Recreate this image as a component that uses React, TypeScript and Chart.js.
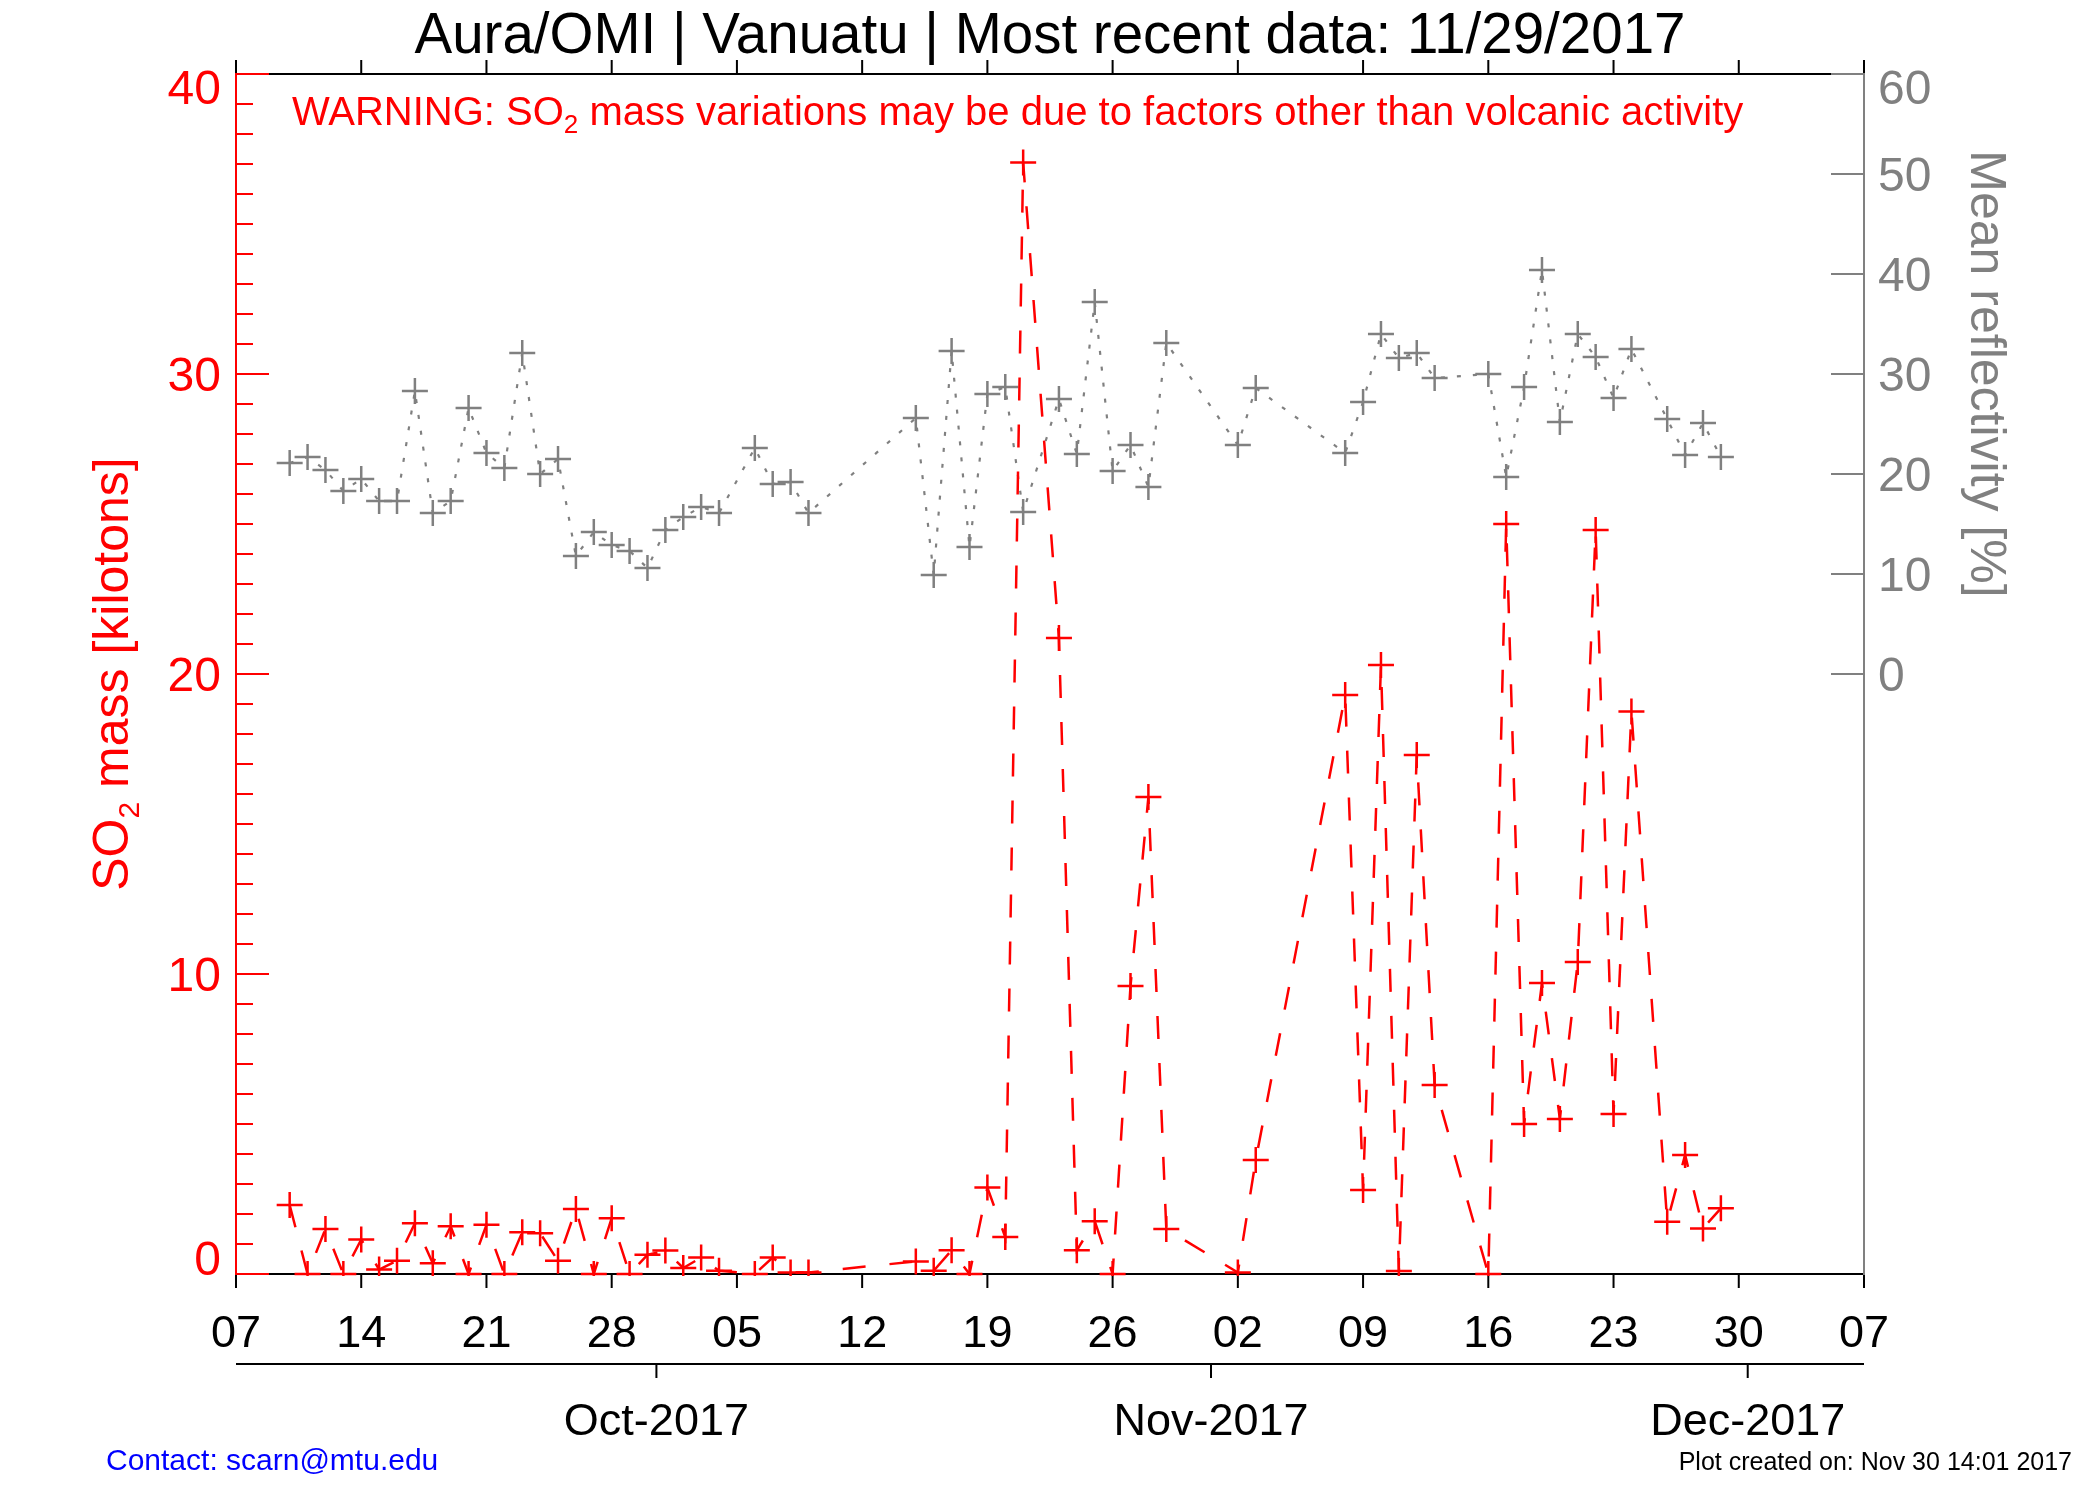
import React, { useEffect, useRef } from "react";
import { Chart, registerables } from "chart.js";

Chart.register(...registerables);

// ---------- data ----------
const startDate = "2017-09-07";
const endDate = "2017-12-07";

const obsDates = [
  "2017-09-10", "2017-09-11", "2017-09-12", "2017-09-13", "2017-09-14", "2017-09-15", "2017-09-16",
  "2017-09-17", "2017-09-18", "2017-09-19", "2017-09-20", "2017-09-21", "2017-09-22", "2017-09-23",
  "2017-09-24", "2017-09-25", "2017-09-26", "2017-09-27", "2017-09-28", "2017-09-29", "2017-09-30",
  "2017-10-01", "2017-10-02", "2017-10-03", "2017-10-04",
  "2017-10-06", "2017-10-07", "2017-10-08", "2017-10-09",
  "2017-10-15", "2017-10-16", "2017-10-17", "2017-10-18", "2017-10-19", "2017-10-20", "2017-10-21",
  "2017-10-23", "2017-10-24", "2017-10-25", "2017-10-26", "2017-10-27", "2017-10-28", "2017-10-29",
  "2017-11-02", "2017-11-03",
  "2017-11-08", "2017-11-09", "2017-11-10", "2017-11-11", "2017-11-12", "2017-11-13",
  "2017-11-16", "2017-11-17", "2017-11-18", "2017-11-19", "2017-11-20", "2017-11-21", "2017-11-22",
  "2017-11-23", "2017-11-24",
  "2017-11-26", "2017-11-27", "2017-11-28", "2017-11-29",
];

const so2Mass = [
  2.3, 0, 1.5, 0, 1.15, 0.15, 0.44,
  1.69, 0.36, 1.59, 0, 1.64, 0, 1.39,
  1.36, 0.44, 2.17, 0, 1.86, 0, 0.64,
  0.78, 0.2, 0.55, 0.11,
  0, 0.55, 0.05, 0.05,
  0.42, 0.11, 0.79, 0, 2.88, 1.23, 37.05,
  21.2, 0.79, 1.76, 0, 9.6, 15.9, 1.5,
  0.05, 3.8,
  19.3, 2.8, 20.3, 0.1, 17.3, 6.3,
  0, 25.0, 5.0, 9.7, 5.17, 10.4, 24.8,
  5.33, 18.75,
  1.74, 3.97, 1.52, 2.19,
];

const reflectivity = [
  21.1, 21.7, 20.4, 18.3, 19.5, 17.3, 17.3,
  28.3, 16.1, 17.3, 26.6, 22.1, 20.6, 32.1,
  20.0, 21.5, 11.8, 14.2, 12.9, 12.3, 10.6,
  14.4, 15.7, 16.7, 16.1,
  22.6, 19.0, 19.2, 16.1,
  25.6, 9.9, 32.3, 12.7, 28.0, 28.7, 16.2,
  27.5, 22.0, 37.2, 20.3, 22.9, 18.7, 33.1,
  22.9, 28.6,
  22.1, 27.2, 34.0, 31.6, 32.1, 29.6,
  30.0, 19.7, 28.7, 40.4, 25.2, 34.0, 31.7,
  27.6, 32.5,
  25.5, 21.9, 25.1, 21.7,
];

const weekTickDates = [
  "2017-09-07", "2017-09-14", "2017-09-21", "2017-09-28", "2017-10-05", "2017-10-12", "2017-10-19",
  "2017-10-26", "2017-11-02", "2017-11-09", "2017-11-16", "2017-11-23", "2017-11-30", "2017-12-07",
];
const weekTickLabels = ["07", "14", "21", "28", "05", "12", "19", "26", "02", "09", "16", "23", "30", "07"];

const monthTickDates = ["2017-10-01", "2017-11-01", "2017-12-01"];
const monthTickLabels = ["Oct-2017", "Nov-2017", "Dec-2017"];

const leftTicks = [0, 10, 20, 30, 40];
const rightTicks = [0, 10, 20, 30, 40, 50, 60];

const titleText = "Aura/OMI | Vanuatu | Most recent data: 11/29/2017";
const contactText = "Contact: scarn@mtu.edu";
const createdText = "Plot created on: Nov 30 14:01 2017";

// ---------- helpers ----------
const DAY_MS = 86400000;
const toUTC = (s: string) => {
  const [y, m, d] = s.split("-").map(Number);
  return Date.UTC(y, m - 1, d);
};
const dayOf = (s: string) => (toUTC(s) - toUTC(startDate)) / DAY_MS;

const RED = "#ff0000";
const GRAY = "#808080";
const BLACK = "#000000";
const FONT = "'Liberation Sans', Arial, Helvetica, sans-serif";

type Part = { text: string; size: number; dy?: number };

function drawRich(ctx: CanvasRenderingContext2D, parts: Part[], x: number, y: number, align: "left" | "center") {
  ctx.textBaseline = "alphabetic";
  ctx.textAlign = "left";
  let total = 0;
  const widths = parts.map((p) => {
    ctx.font = `${p.size}px ${FONT}`;
    const w = ctx.measureText(p.text).width;
    total += w;
    return w;
  });
  let cx = align === "center" ? x - total / 2 : x;
  parts.forEach((p, i) => {
    ctx.font = `${p.size}px ${FONT}`;
    ctx.fillText(p.text, cx, y + (p.dy || 0));
    cx += widths[i];
  });
}

const idlAxes = {
  id: "idlAxes",
  beforeDatasetsDraw(chart: any) {
    const ctx: CanvasRenderingContext2D = chart.ctx;
    const { left, right, top, bottom } = chart.chartArea;
    const xs = chart.scales.x;
    const yl = chart.scales.y;
    const yr = chart.scales.y2;
    ctx.save();
    ctx.setLineDash([]);
    ctx.lineCap = "butt";
    ctx.lineWidth = 2;

    // top & bottom frame
    ctx.strokeStyle = BLACK;
    ctx.beginPath();
    ctx.moveTo(left, top);
    ctx.lineTo(right, top);
    ctx.moveTo(left, bottom);
    ctx.lineTo(right, bottom);
    ctx.stroke();

    // weekly ticks (outward on bottom and top)
    ctx.beginPath();
    weekTickDates.forEach((d) => {
      const px = xs.getPixelForValue(dayOf(d));
      ctx.moveTo(px, bottom);
      ctx.lineTo(px, bottom + 14);
      ctx.moveTo(px, top);
      ctx.lineTo(px, top - 14);
    });
    ctx.stroke();

    // left axis (red)
    ctx.strokeStyle = RED;
    ctx.beginPath();
    ctx.moveTo(left, top - 1);
    ctx.lineTo(left, bottom + 1);
    for (let v = 0; v <= 40; v++) {
      const py = yl.getPixelForValue(v);
      const len = v % 10 === 0 ? 33 : 17;
      ctx.moveTo(left, py);
      ctx.lineTo(left + len, py);
    }
    ctx.stroke();

    // right axis (gray)
    ctx.strokeStyle = GRAY;
    ctx.beginPath();
    ctx.moveTo(right, top - 1);
    ctx.lineTo(right, bottom + 1);
    rightTicks.forEach((v) => {
      const py = yr.getPixelForValue(v);
      ctx.moveTo(right, py);
      ctx.lineTo(right - 33, py);
    });
    ctx.stroke();

    // second date axis (months)
    const my = bottom + 90;
    ctx.strokeStyle = BLACK;
    ctx.beginPath();
    ctx.moveTo(left, my);
    ctx.lineTo(right, my);
    monthTickDates.forEach((d) => {
      const px = xs.getPixelForValue(dayOf(d) - 0.5);
      ctx.moveTo(px, my);
      ctx.lineTo(px, my + 14);
    });
    ctx.stroke();

    // ---------- text ----------
    // left tick labels
    ctx.fillStyle = RED;
    ctx.font = `48px ${FONT}`;
    ctx.textAlign = "right";
    ctx.textBaseline = "alphabetic";
    leftTicks.forEach((v) => {
      const py = yl.getPixelForValue(v);
      const cy = Math.min(Math.max(py, top + 13), bottom - 16);
      ctx.fillText(String(v), left - 15, cy + 17);
    });

    // right tick labels
    ctx.fillStyle = GRAY;
    ctx.textAlign = "left";
    rightTicks.forEach((v) => {
      const py = yr.getPixelForValue(v);
      const cy = Math.max(py, top + 13);
      ctx.fillText(String(v), right + 14, cy + 17);
    });

    // bottom day labels
    ctx.fillStyle = BLACK;
    ctx.font = `45px ${FONT}`;
    ctx.textAlign = "center";
    weekTickDates.forEach((d, i) => {
      const px = xs.getPixelForValue(dayOf(d));
      ctx.fillText(weekTickLabels[i], px, bottom + 73);
    });

    // month labels
    monthTickDates.forEach((d, i) => {
      const px = xs.getPixelForValue(dayOf(d) - 0.5);
      ctx.fillText(monthTickLabels[i], px, bottom + 161);
    });

    // title
    ctx.font = `56.5px ${FONT}`;
    ctx.fillStyle = BLACK;
    ctx.textAlign = "center";
    ctx.fillText(titleText, (left + right) / 2, top - 21);

    // warning
    ctx.fillStyle = RED;
    drawRich(
      ctx,
      [
        { text: "WARNING: SO", size: 40 },
        { text: "2", size: 26, dy: 8 },
        { text: " mass variations may be due to factors other than volcanic activity", size: 40 },
      ],
      left + 56,
      top + 51,
      "left"
    );

    // left axis title (rotated CCW)
    ctx.save();
    ctx.fillStyle = RED;
    ctx.translate(left - 108, (top + bottom) / 2);
    ctx.rotate(-Math.PI / 2);
    drawRich(
      ctx,
      [
        { text: "SO", size: 50 },
        { text: "2", size: 30, dy: 11 },
        { text: " mass [kilotons]", size: 50 },
      ],
      0,
      0,
      "center"
    );
    ctx.restore();

    // right axis title (rotated CW)
    ctx.save();
    ctx.fillStyle = GRAY;
    ctx.translate(right + 107, yr.getPixelForValue(30));
    ctx.rotate(Math.PI / 2);
    drawRich(ctx, [{ text: "Mean reflectivity [%]", size: 50 }], 0, 0, "center");
    ctx.restore();

    // footer texts
    ctx.font = `30px ${FONT}`;
    ctx.fillStyle = "#0000ff";
    ctx.textAlign = "left";
    ctx.fillText(contactText, 106, 1470);
    ctx.font = `25px ${FONT}`;
    ctx.fillStyle = BLACK;
    ctx.textAlign = "right";
    ctx.fillText(createdText, 2072, 1470);

    ctx.restore();
  },
};

export default function App() {
  const ref = useRef<HTMLCanvasElement | null>(null);

  useEffect(() => {
    if (!ref.current) return;
    const xDays = obsDates.map(dayOf);
    const chart = new Chart(ref.current, {
      type: "line",
      data: {
        datasets: [
          {
            label: "SO2 mass",
            data: xDays.map((x, i) => ({ x, y: so2Mass[i] })),
            yAxisID: "y",
            borderColor: RED,
            borderWidth: 2.5,
            borderDash: [23, 24],
            pointStyle: "cross",
            pointRadius: 13,
            pointBorderWidth: 2.5,
            pointBorderColor: RED,
            pointBackgroundColor: RED,
            tension: 0,
            fill: false,
            clip: { left: 0, top: 0, right: 0, bottom: 2 } as any,
          },
          {
            label: "Mean reflectivity",
            data: xDays.map((x, i) => ({ x, y: reflectivity[i] })),
            yAxisID: "y2",
            borderColor: GRAY,
            borderWidth: 2.2,
            borderDash: [4, 12],
            pointStyle: "cross",
            pointRadius: 13,
            pointBorderWidth: 2.5,
            pointBorderColor: GRAY,
            pointBackgroundColor: GRAY,
            tension: 0,
            fill: false,
            clip: 0 as any,
          },
        ],
      },
      options: {
        responsive: false,
        animation: false,
        devicePixelRatio: 1,
        events: [],
        layout: { padding: { left: 236, right: 236, top: 74, bottom: 226 } },
        plugins: {
          legend: { display: false },
          tooltip: { enabled: false },
          title: { display: false },
        },
        scales: {
          x: { type: "linear", min: dayOf(startDate), max: dayOf(endDate), display: false },
          y: { type: "linear", min: 0, max: 40, display: false },
          y2: { type: "linear", min: -60, max: 60, display: false, position: "right" },
        },
      },
      plugins: [idlAxes],
    });
    return () => chart.destroy();
  }, []);

  return (
    <canvas
      ref={ref}
      width={2100}
      height={1500}
      style={{ position: "absolute", left: 0, top: 0, width: 2100, height: 1500, background: "#ffffff" }}
    />
  );
}
